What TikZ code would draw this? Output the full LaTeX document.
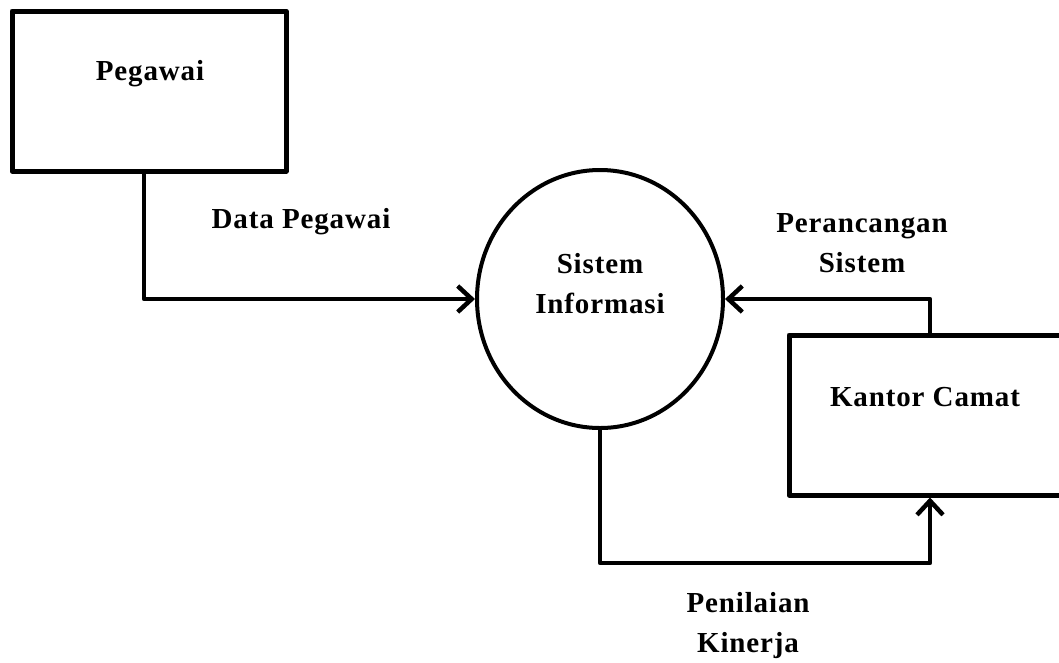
\documentclass[tikz,border=0pt]{standalone}
\usepackage{fontspec}
\setmainfont[LetterSpace=3]{Liberation Serif}
\usetikzlibrary{arrows.meta,shapes.geometric}
\tikzset{
  ent/.style={draw, line width=5pt, line join=round, rectangle, inner sep=0pt},
  proc/.style={draw, line width=4pt, ellipse, inner sep=0pt, minimum width=246pt, minimum height=258pt},
  txt/.style={font=\fontsize{29}{40}\selectfont\bfseries, align=center, inner sep=0pt},
  flow/.style={line width=4.5pt, line join=round, -{Straight Barb[length=14pt,width=26pt,line width=4.5pt]}}
}
\begin{document}
\begin{tikzpicture}[x=1pt,y=-1pt]
\clip (0,0) rectangle (1059,662);
\fill[white] (0,0) rectangle (1059,662);
% entities
\node[ent, minimum width=274pt, minimum height=160pt] (peg) at (149,91) {};
\node[txt] (pegt) at (150,74) {Pegawai};
\node[proc] (sis) at (600,299) {};
\node[txt] (sist) at (600,284) {Sistem\\Informasi};
\node[ent, minimum width=290pt, minimum height=160pt] (kc) at (934,415) {};
\node[txt] (kct) at (925,397) {Kantor Camat};
% helper coordinates
\coordinate (xa) at (144,0);
\coordinate (xb) at (930,0);
\coordinate (yb) at (0,563);
% flows
\draw[flow] (peg.south -| xa) |- (sis.west);
\draw[flow] (kc.north -| xb) |- (sis.east);
\draw[flow] (sis.south) -- (sis.south |- yb) -| (kc.south -| xb);
% labels
\node[txt] (l1) at (301,222) {Data Pegawai};
\node[txt] (l2) at (862,243) {Perancangan\\Sistem};
\node[txt] (l3) at (748,626) {Penilaian\\Kinerja};
\end{tikzpicture}
\end{document}
